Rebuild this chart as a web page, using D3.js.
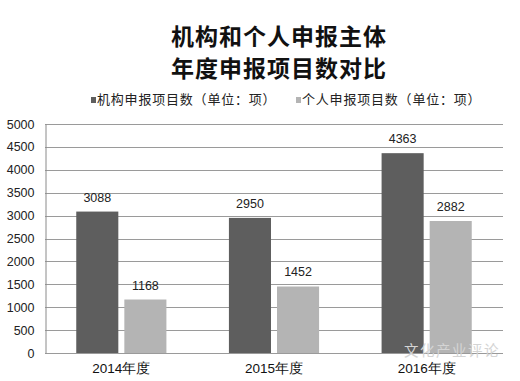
<!DOCTYPE html>
<html>
<head>
<meta charset="utf-8">
<script src="https://cdn.jsdelivr.net/npm/d3@7"></script>
<style>
  body { margin: 0; background: #fff; }
  svg { display: block; font-family: "Noto Sans CJK SC", "DejaVu Sans", sans-serif; }
</style>
</head>
<body>
<div id="chart"></div>
<script>
// chart data
var years = ['2014年度', '2015年度', '2016年度'];
var orgCounts = [3088, 2950, 4363];
var personCounts = [1168, 1452, 2882];
var seriesNames = ['机构申报项目数（单位：项）', '个人申报项目数（单位：项）'];
var titleLines = ['机构和个人申报主体', '年度申报项目数对比'];
var yTicks = [0, 500, 1000, 1500, 2000, 2500, 3000, 3500, 4000, 4500, 5000];

var width = 520, height = 381;
var margin = {left: 45, right: 17, top: 124, bottom: 28};
var colors = ['#5e5e5e', '#b4b4b4'];
var numFont = '"Liberation Sans", Arial, sans-serif';

var svg = d3.select('#chart').append('svg')
    .attr('width', width)
    .attr('height', height);

// title
svg.selectAll('text.title')
  .data(titleLines)
  .enter().append('text')
    .attr('class', 'title')
    .attr('x', 279)
    .attr('y', function(d, i) { return 45 + i * 32; })
    .attr('text-anchor', 'middle')
    .style('font-size', '23px')
    .style('letter-spacing', '1px')
    .style('font-weight', 'bold')
    .attr('fill', '#111')
    .text(function(d) { return d; });

// legend
var legendX = [91, 296];
var legend = svg.selectAll('g.legend')
  .data(seriesNames)
  .enter().append('g')
    .attr('class', 'legend')
    .attr('transform', function(d, i) { return 'translate(' + legendX[i] + ',104)'; });
legend.append('rect')
    .attr('x', 0).attr('y', -7)
    .attr('width', 5).attr('height', 6)
    .attr('fill', function(d, i) { return colors[i]; });
legend.append('text')
    .attr('x', 6).attr('y', 0)
    .style('font-size', '13px')
    .style('letter-spacing', '0.8px')
    .attr('fill', '#222')
    .text(function(d) { return d; });

var x = d3.scaleBand()
    .domain(years)
    .range([margin.left, width - margin.right]);

var x1 = d3.scaleBand()
    .domain([0, 1])
    .range([0, x.bandwidth()])
    .paddingInner(0.125)
    .paddingOuter(0.65);

var y = d3.scaleLinear()
    .domain([0, 5000])
    .range([height - margin.bottom, margin.top]);

// gridlines
svg.append('g')
  .selectAll('line')
  .data(yTicks)
  .enter().append('line')
    .attr('x1', margin.left)
    .attr('x2', width - margin.right)
    .attr('y1', function(d) { return Math.round(y(d)) + 0.5; })
    .attr('y2', function(d) { return Math.round(y(d)) + 0.5; })
    .attr('stroke', '#9a9a9a')
    .attr('stroke-width', 1);

// y axis
var yAxis = svg.append('g')
    .attr('transform', 'translate(' + (margin.left + 0.5) + ',0)')
    .call(d3.axisLeft(y).tickValues(yTicks).tickFormat(d3.format('d')).tickSize(0).tickPadding(11));
yAxis.select('.domain').attr('stroke', '#8a8a8a');
yAxis.selectAll('text')
    .style('font-size', '12.5px')
    .style('font-family', numFont)
    .attr('fill', '#222');

// x axis labels
var xAxis = svg.append('g')
    .attr('transform', 'translate(0,' + (height - margin.bottom) + ')')
    .call(d3.axisBottom(x).tickSize(0).tickPadding(10));
xAxis.select('.domain').remove();
xAxis.selectAll('text')
    .style('font-size', '13.5px')
    .attr('fill', '#111');

// bars
var rows = years.map(function(yr, i) { return {year: yr, values: [orgCounts[i], personCounts[i]]}; });

var groups = svg.selectAll('g.year')
  .data(rows)
  .enter().append('g')
    .attr('class', 'year')
    .attr('transform', function(d) { return 'translate(' + x(d.year) + ',0)'; });

groups.selectAll('rect')
  .data(function(d) { return d.values; })
  .enter().append('rect')
    .attr('x', function(d, i) { return x1(i); })
    .attr('y', function(d) { return y(d); })
    .attr('width', x1.bandwidth())
    .attr('height', function(d) { return y(0) - y(d); })
    .attr('fill', function(d, i) { return colors[i]; });

groups.selectAll('text')
  .data(function(d) { return d.values; })
  .enter().append('text')
    .attr('x', function(d, i) { return x1(i) + x1.bandwidth() / 2; })
    .attr('y', function(d) { return y(d) - 10; })
    .attr('text-anchor', 'middle')
    .style('font-size', '12.5px')
    .style('font-family', numFont)
    .attr('fill', '#222')
    .text(function(d) { return d; });

// watermark
svg.append('text')
    .attr('x', 404).attr('y', 356)
    .style('font-size', '14.5px')
    .style('letter-spacing', '1.5px')
    .attr('fill', '#d4d4d4')
    .text('文化产业评论');
</script>
</body>
</html>
